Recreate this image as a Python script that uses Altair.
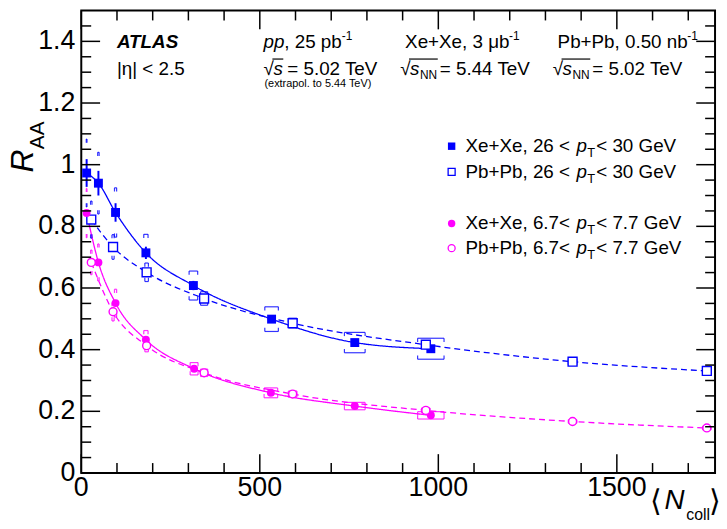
import altair as alt
import pandas as pd

# ---------------- data ----------------
# Xe+Xe, 26 < pT < 30 GeV  (filled blue squares, solid line)
xe_hi_N = [15, 48, 96, 181, 314, 533, 766, 979]
xe_hi_R = [0.973, 0.940, 0.845, 0.714, 0.608, 0.499, 0.423, 0.403]
xe_hi_stat = [0.045, 0.040, 0.030, 0.020, 0.015, 0.010, 0.010, 0.010]
xe_hi_sys = [0.110, 0.100, 0.080, 0.060, 0.047, 0.040, 0.033, 0.034]
xe_hi_Nerr = [1, 2, 3, 6, 12, 19, 29, 37]

# Pb+Pb, 26 < pT < 30 GeV  (open blue squares, dashed line)
pb_hi_N = [28, 89, 183, 344, 592, 965, 1376, 1752]
pb_hi_R = [0.822, 0.733, 0.651, 0.566, 0.486, 0.416, 0.361, 0.331]
pb_hi_stat = [0.010, 0.006, 0.004, 0.003, 0.003, 0.003, 0.003, 0.003]
pb_hi_sys = [0.060, 0.040, 0.030, 0.022, 0.016, 0.012, 0.010, 0.010]
pb_hi_Nerr = [2, 3, 5, 10, 12, 12, 12, 12]

# Xe+Xe, 6.7 < pT < 7.7 GeV  (filled magenta circles, solid line)
xe_lo_N = [15, 48, 96, 181, 316, 531, 766, 979]
xe_lo_R = [0.843, 0.683, 0.551, 0.432, 0.338, 0.260, 0.217, 0.187]
xe_lo_stat = [0.006, 0.005, 0.004, 0.003, 0.003, 0.003, 0.003, 0.003]
xe_lo_sys = [0.080, 0.060, 0.045, 0.030, 0.020, 0.016, 0.012, 0.012]
xe_lo_Nerr = [1, 2, 3, 6, 11, 19, 29, 37]

# Pb+Pb, 6.7 < pT < 7.7 GeV  (open magenta circles, dashed line)
pb_lo_N = [28, 89, 183, 344, 592, 965, 1376, 1752]
pb_lo_R = [0.683, 0.523, 0.413, 0.325, 0.256, 0.203, 0.167, 0.146]
pb_lo_stat = [0.004, 0.003, 0.002, 0.002, 0.002, 0.002, 0.002, 0.002]
pb_lo_sys = [0.040, 0.030, 0.020, 0.012, 0.010, 0.008, 0.006, 0.006]
pb_lo_Nerr = [2, 3, 5, 10, 12, 12, 12, 12]

x_major = [0, 500, 1000, 1500]
x_minor = [100, 200, 300, 400, 600, 700, 800, 900, 1100, 1200, 1300, 1400, 1600, 1700]
y_major = [0, 0.2, 0.4, 0.6, 0.8, 1.0, 1.2, 1.4]
y_minor = [0.05, 0.10, 0.15, 0.25, 0.30, 0.35, 0.45, 0.50, 0.55, 0.65, 0.70, 0.75,
           0.85, 0.90, 0.95, 1.05, 1.10, 1.15, 1.25, 1.30, 1.35, 1.45]

# ---------------- layout / style ----------------
W, H = 640, 467
BLUE = "#0000ff"
MAG = "#ff00ff"
FONT = "Liberation Sans"
xs = alt.Scale(domain=[0, 1775], nice=False, zero=False)
ys = alt.Scale(domain=[0, 1.5], nice=False, zero=False)


def series_frame(N, R, stat):
    return pd.DataFrame({"N": N, "R": R,
                         "lo": [r - s for r, s in zip(R, stat)],
                         "hi": [r + s for r, s in zip(R, stat)]})


def bracket_frame(N, R, sys, Nerr):
    rows = []
    for n, r, s, dn in zip(N, R, sys, Nerr):
        t = min(0.012, s)
        top, bot = r + s, r - s
        rows += [
            dict(x1=n - dn, x2=n + dn, y1=top, y2=top),
            dict(x1=n - dn, x2=n + dn, y1=bot, y2=bot),
            dict(x1=n - dn, x2=n - dn, y1=top, y2=top - t),
            dict(x1=n + dn, x2=n + dn, y1=top, y2=top - t),
            dict(x1=n - dn, x2=n - dn, y1=bot, y2=bot + t),
            dict(x1=n + dn, x2=n + dn, y1=bot, y2=bot + t),
        ]
    return pd.DataFrame(rows)


series = [
    (xe_hi_N, xe_hi_R, xe_hi_stat, xe_hi_sys, xe_hi_Nerr, BLUE, "square", True, [1, 0]),
    (pb_hi_N, pb_hi_R, pb_hi_stat, pb_hi_sys, pb_hi_Nerr, BLUE, "square", False, [6, 4]),
    (xe_lo_N, xe_lo_R, xe_lo_stat, xe_lo_sys, xe_lo_Nerr, MAG, "circle", True, [1, 0]),
    (pb_lo_N, pb_lo_R, pb_lo_stat, pb_lo_sys, pb_lo_Nerr, MAG, "circle", False, [6, 4]),
]

line_layers, bracket_layers, stat_layers, point_layers = [], [], [], []
for N, R, stat, sys, Nerr, col, shape, filled, dash in series:
    df = series_frame(N, R, stat)
    bf = bracket_frame(N, R, sys, Nerr)
    line_layers.append(
        alt.Chart(df).mark_line(color=col, strokeWidth=1.3, strokeDash=dash,
                                interpolate="monotone").encode(
            x=alt.X("N:Q", scale=xs, axis=None),
            y=alt.Y("R:Q", scale=ys, axis=None)))
    bracket_layers.append(
        alt.Chart(bf).mark_rule(color=col, strokeWidth=1.2, opacity=0.8).encode(
            x=alt.X("x1:Q", scale=xs, axis=None), x2="x2:Q",
            y=alt.Y("y1:Q", scale=ys, axis=None), y2="y2:Q"))
    stat_layers.append(
        alt.Chart(df).mark_rule(color=col, strokeWidth=2).encode(
            x=alt.X("N:Q", scale=xs, axis=None),
            y=alt.Y("lo:Q", scale=ys, axis=None), y2="hi:Q"))
    size = 81 if shape == "square" else 64
    if filled:
        pm = alt.Chart(df).mark_point(shape=shape, filled=True, color=col, size=size, opacity=1)
    else:
        pm = alt.Chart(df).mark_point(shape=shape, filled=True, fill="white", stroke=col,
                                      strokeWidth=1.4, size=size, opacity=1)
    point_layers.append(pm.encode(x=alt.X("N:Q", scale=xs, axis=None),
                                  y=alt.Y("R:Q", scale=ys, axis=None)))


# ---------------- ticks inside the frame (ROOT style) and tick labels ----------------
def xticks(vals, length, top):
    d = pd.DataFrame({"v": vals})
    y0, y1 = (0, length) if top else (H, H - length)
    return alt.Chart(d).mark_rule(color="black", strokeWidth=1.5).encode(
        x=alt.X("v:Q", scale=xs, axis=None), y=alt.value(y0), y2=alt.value(y1))


def yticks(vals, length, right):
    d = pd.DataFrame({"v": vals})
    x0, x1 = (W, W - length) if right else (0, length)
    return alt.Chart(d).mark_rule(color="black", strokeWidth=1.5).encode(
        y=alt.Y("v:Q", scale=ys, axis=None), x=alt.value(x0), x2=alt.value(x1))


tick_layers = [xticks(x_major, 19, False), xticks(x_minor, 10, False),
               xticks(x_major, 19, True), xticks(x_minor, 10, True),
               yticks(y_major, 19, False), yticks(y_minor, 10, False),
               yticks(y_major, 19, True), yticks(y_minor, 10, True)]

xlab = pd.DataFrame({"v": x_major, "lab": [f"{v:g}" for v in x_major]})
ylab = pd.DataFrame({"v": y_major, "lab": [f"{v:g}" for v in y_major]})
tick_layers.append(
    alt.Chart(xlab).mark_text(font=FONT, fontSize=27, align="center", baseline="top",
                              color="black").encode(
        x=alt.X("v:Q", scale=xs, axis=None), y=alt.value(H + 2), text="lab:N"))
tick_layers.append(
    alt.Chart(ylab).mark_text(font=FONT, fontSize=27, align="right", baseline="middle",
                              color="black").encode(
        y=alt.Y("v:Q", scale=ys, axis=None), x=alt.value(-6), text="lab:N"))

# ---------------- text annotations (pixel positions) ----------------
ONE = pd.DataFrame({"k": [0]})


def txt(t, px, py, size, style="normal", weight="normal", align="left", angle=0):
    return alt.Chart(ONE).mark_text(font=FONT, fontSize=size, fontStyle=style,
                                    fontWeight=weight, align=align, baseline="middle",
                                    color="black", angle=angle).encode(
        x=alt.value(px), y=alt.value(py), text=alt.value(t))


regular19 = [
    ("|η| < 2.5", 36, 59),
    (", 25 pb", 205, 32),
    ("Xe+Xe, 3 μb", 327, 32),
    ("Pb+Pb, 0.50 nb", 481, 32),
    ("√", 184, 59), ("= 5.02 TeV", 208, 59),
    ("√", 322, 59), ("= 5.44 TeV", 362, 59),
    ("√", 476, 59), ("= 5.02 TeV", 516, 59),
    ("Xe+Xe, 26 <", 388, 137), ("< 30 GeV", 520, 137),
    ("Pb+Pb, 26 <", 388, 163), ("< 30 GeV", 520, 163),
    ("Xe+Xe, 6.7<", 388, 215), ("< 7.7 GeV", 520, 215),
    ("Pb+Pb, 6.7<", 388, 240), ("< 7.7 GeV", 520, 240),
]
italic19 = [
    ("pp", 184, 32),
    ("s", 194, 59), ("s", 332, 59), ("s", 486, 59),
    ("p", 500, 137), ("p", 500, 163), ("p", 500, 215), ("p", 500, 240),
]
small12 = [
    ("-1", 263, 26), ("-1", 432, 26), ("-1", 612, 26),
    ("NN", 342, 65), ("NN", 496, 65),
]
small13 = [("T", 511, 144), ("T", 511, 170), ("T", 511, 222), ("T", 511, 247)]

ann_layers = [txt("ATLAS", 36, 32, 19, style="italic", weight="bold")]
ann_layers += [txt(t, x, y, 19) for t, x, y in regular19]
ann_layers += [txt(t, x, y, 19, style="italic") for t, x, y in italic19]
ann_layers += [txt(t, x, y, 12) for t, x, y in small12]
ann_layers += [txt(t, x, y, 13) for t, x, y in small13]
ann_layers += [txt("(extrapol. to 5.44 TeV)", 185, 74, 11)]

# overbars of the square roots
for x1, x2 in [(193, 204), (331, 360), (485, 514)]:
    ann_layers.append(alt.Chart(ONE).mark_rule(color="black", strokeWidth=1.2).encode(
        x=alt.value(x1), x2=alt.value(x2), y=alt.value(49)))

# axis titles
ann_layers += [
    txt("R", -59, 152, 32, style="italic", align="center", angle=270),
    txt("AA", -44, 126, 21, align="center", angle=270),
    txt("⟨", 574, 496, 30),
    txt("N", 589, 495, 28, style="italic"),
    txt("coll", 611, 509, 16),
    txt("⟩", 634, 496, 30),
]

# legend markers
for (col, shape, filled), py in zip([(BLUE, "square", True), (BLUE, "square", False),
                                     (MAG, "circle", True), (MAG, "circle", False)],
                                    [137, 163, 215, 240]):
    if filled:
        m = alt.Chart(ONE).mark_point(shape=shape, filled=True, color=col, size=56, opacity=1)
    else:
        m = alt.Chart(ONE).mark_point(shape=shape, filled=True, fill="white", stroke=col,
                                      strokeWidth=1.3, size=50, opacity=1)
    ann_layers.append(m.encode(x=alt.value(374), y=alt.value(py)))

chart = alt.layer(*(line_layers + bracket_layers + stat_layers + point_layers
                    + tick_layers + ann_layers)).properties(
    width=W, height=H,
    padding={"left": 74, "top": 0, "right": 4, "bottom": 52},
    autosize=alt.AutoSizeParams(type="none"),
    background="white",
).configure_view(stroke="black", strokeWidth=2)

chart.save("out.html", embed_options={"renderer": "svg", "actions": False})
